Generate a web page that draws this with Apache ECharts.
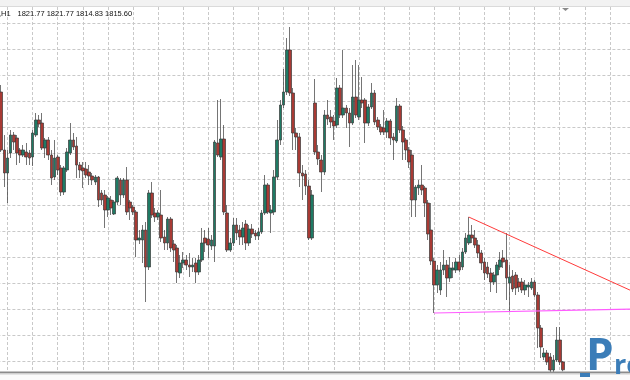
<!DOCTYPE html>
<html><head><meta charset="utf-8">
<script src="https://cdn.jsdelivr.net/npm/echarts@6/dist/echarts.min.js"></script>
<style>html,body{margin:0;padding:0;background:#fff}#c{width:630px;height:380px}</style>
</head><body><div id="c"></div>
<script>
// bar number of the first candle (bars are numbered along the time axis)
const firstBar = 6;
const opens = [
1954.5,1925.5,1914.0,1924.0,1933.0,1931.5,1925.5,1923.0,1924.5,1924.0,
1922.0,1933.0,1940.5,1939.0,1926.5,1930.5,1923.0,1912.0,1922.0,1916.5,
1904.5,1915.5,1924.0,1930.5,1927.5,1918.0,1916.5,1916.0,1914.5,1912.5,
1909.5,1912.0,1904.0,1903.0,1895.5,1900.5,1893.5,1899.5,1910.5,1903.0,
1910.5,1899.5,1897.0,1894.5,1880.5,1880.5,1885.5,1867.0,1904.0,1894.0,
1892.0,1893.0,1882.0,1879.0,1891.0,1878.5,1876.5,1864.0,1869.0,1870.5,
1868.0,1867.0,1869.0,1864.5,1870.5,1881.5,1881.0,1877.5,1877.5,1929.0,
1922.0,1931.0,1894.0,1875.5,1879.0,1888.0,1885.5,1882.0,1888.5,1879.0,
1886.0,1884.0,1882.5,1884.5,1894.0,1908.0,1894.0,1894.5,1912.0,1930.5,
1948.0,1954.5,1975.5,1954.0,1934.0,1932.0,1914.0,1913.5,1907.5,1881.5,
1949.0,1924.5,1920.5,1914.5,1943.0,1942.0,1940.0,1938.0,1956.5,1943.0,
1946.5,1944.0,1939.0,1952.0,1942.0,1950.5,1950.5,1939.0,1947.0,1954.0,
1940.5,1937.0,1936.5,1934.5,1940.0,1932.0,1930.0,1947.5,1935.5,1930.5,
1925.5,1923.0,1900.5,1906.5,1908.0,1906.5,1899.0,1885.5,1870.0,1858.0,
1855.5,1865.5,1868.0,1861.5,1865.5,1865.5,1869.5,1867.0,1874.5,1879.0,
1883.0,1881.5,1878.0,1874.0,1869.5,1867.0,1864.0,1859.5,1863.0,1867.0,
1871.5,1870.5,1859.0,1862.5,1863.0,1859.5,1859.5,1855.5,1857.0,1856.5,
1859.5,1853.0,1836.5,1822.0,1824.0,1822.0,1815.5,1820.5,1830.5,1819.5
];
const closes = [
1925.5,1914.0,1921.5,1933.0,1929.5,1924.0,1923.0,1925.5,1922.0,1921.5,
1934.0,1940.5,1938.5,1926.5,1930.5,1923.0,1911.5,1921.5,1915.5,1904.5,
1916.5,1924.5,1930.5,1927.0,1918.0,1915.5,1915.0,1913.0,1912.5,1910.5,
1912.0,1900.5,1900.5,1895.5,1901.5,1896.5,1899.5,1911.5,1903.0,1910.5,
1894.5,1896.5,1894.5,1880.5,1881.5,1885.5,1867.0,1904.0,1893.0,1892.0,
1894.0,1881.5,1879.0,1891.0,1876.5,1875.5,1864.5,1869.0,1870.5,1868.0,
1867.0,1868.0,1864.5,1870.5,1879.0,1879.0,1878.0,1880.5,1929.5,1923.0,
1931.0,1894.5,1875.5,1879.0,1888.0,1884.0,1882.0,1886.5,1879.0,1886.0,
1883.5,1882.5,1884.5,1894.0,1908.0,1894.5,1895.5,1912.0,1930.5,1948.0,
1954.5,1975.5,1954.0,1934.0,1932.0,1914.0,1912.5,1907.5,1881.5,1903.0,
1924.5,1921.0,1914.5,1943.0,1941.0,1939.5,1937.5,1956.5,1943.0,1946.5,
1944.0,1939.0,1952.0,1943.0,1950.5,1949.0,1939.0,1947.0,1954.0,1939.5,
1937.0,1934.5,1934.5,1940.0,1931.5,1930.5,1947.5,1935.5,1929.5,1925.5,
1919.5,1900.5,1907.0,1908.0,1905.5,1899.0,1883.5,1870.0,1858.0,1865.5,
1865.5,1868.0,1861.5,1866.5,1866.5,1869.5,1865.5,1874.5,1881.5,1883.0,
1881.5,1878.0,1874.0,1869.0,1864.0,1863.5,1859.5,1863.0,1868.0,1870.5,
1869.5,1861.5,1862.0,1856.0,1856.5,1857.0,1855.5,1858.0,1858.0,1859.5,
1853.0,1836.5,1827.0,1824.0,1819.5,1815.5,1820.5,1830.5,1819.5,1815.6
];
const lows = [
1924.5,1907.0,1899.0,1921.5,1925.5,1918.0,1919.0,1922.0,1918.0,1918.0,
1917.5,1932.0,1937.0,1925.5,1921.5,1920.5,1908.0,1910.5,1913.0,1902.5,
1903.0,1914.5,1923.0,1925.5,1911.5,1911.5,1906.5,1911.5,1908.0,1908.0,
1908.0,1897.0,1898.0,1886.5,1892.0,1893.0,1893.0,1898.0,1898.0,1901.5,
1893.0,1890.5,1893.0,1872.0,1878.5,1869.0,1849.5,1865.5,1891.5,1889.5,
1890.5,1879.5,1875.5,1875.5,1874.5,1869.5,1859.0,1861.5,1866.5,1865.5,
1862.0,1864.5,1859.0,1863.0,1869.5,1874.5,1871.5,1875.5,1869.5,1922.0,
1920.5,1893.0,1874.5,1874.5,1877.5,1880.5,1878.0,1878.0,1875.5,1877.5,
1881.5,1880.5,1880.5,1883.5,1893.0,1893.5,1884.0,1893.0,1910.5,1928.0,
1946.5,1953.0,1952.5,1925.5,1925.5,1907.0,1900.5,1903.0,1880.5,1880.5,
1923.0,1918.0,1904.5,1913.0,1938.0,1936.5,1930.5,1936.5,1941.5,1941.5,
1936.5,1927.0,1938.0,1941.5,1940.5,1946.5,1929.0,1937.5,1946.0,1938.0,
1935.5,1933.0,1933.0,1931.5,1928.0,1920.5,1929.0,1934.0,1920.5,1920.5,
1916.5,1892.0,1892.0,1903.0,1903.0,1892.0,1880.5,1868.0,1844.0,1854.0,
1853.0,1863.0,1852.0,1859.5,1861.5,1864.0,1864.5,1865.5,1873.5,1878.0,
1879.0,1876.5,1871.5,1865.5,1860.5,1861.5,1854.5,1858.0,1854.0,1865.5,
1866.5,1850.5,1844.5,1854.5,1853.0,1854.5,1854.0,1853.0,1852.0,1855.5,
1852.0,1826.5,1821.5,1820.5,1818.0,1812.5,1811.5,1819.5,1818.0,1814.83
];
const highs = [
1958.0,1933.0,1925.5,1935.5,1934.5,1933.0,1926.5,1928.0,1929.0,1925.5,
1935.5,1944.0,1943.0,1944.0,1931.5,1932.0,1925.5,1930.5,1923.0,1918.0,
1917.5,1926.5,1939.0,1934.0,1932.0,1919.5,1919.5,1919.5,1918.0,1914.0,
1913.0,1912.5,1905.5,1905.5,1902.5,1902.5,1900.5,1912.5,1911.5,1911.5,
1917.0,1900.5,1898.0,1895.5,1885.5,1888.0,1889.5,1905.5,1909.5,1896.5,
1895.5,1905.5,1885.5,1892.0,1892.0,1880.5,1878.0,1873.0,1874.5,1873.0,
1874.0,1871.5,1871.5,1873.0,1886.5,1885.5,1886.5,1883.0,1930.5,1950.5,
1951.0,1938.0,1898.0,1881.5,1891.5,1891.5,1888.0,1889.5,1890.5,1888.0,
1888.5,1885.5,1886.5,1895.5,1913.0,1909.0,1898.0,1915.5,1940.5,1950.5,
1966.0,1981.5,1987.0,1956.5,1936.5,1934.0,1918.0,1915.5,1910.5,1905.5,
1961.0,1928.0,1923.0,1945.5,1950.5,1945.5,1943.0,1961.5,1958.0,1975.5,
1948.0,1946.5,1968.0,1970.5,1968.0,1962.0,1951.5,1948.5,1959.0,1955.5,
1942.0,1938.5,1945.5,1941.5,1941.0,1934.0,1951.5,1948.5,1937.5,1931.5,
1927.0,1925.5,1908.0,1910.5,1918.0,1907.5,1900.5,1899.0,1871.5,1868.0,
1869.5,1875.5,1870.5,1872.0,1869.5,1871.5,1873.0,1876.5,1884.0,1892.0,
1888.0,1885.5,1880.5,1875.5,1871.5,1869.5,1866.5,1864.5,1869.5,1874.5,
1875.5,1884.0,1868.0,1865.5,1864.5,1861.5,1861.5,1860.5,1859.5,1861.5,
1860.5,1854.5,1838.0,1826.5,1825.5,1824.0,1823.0,1837.0,1837.0,1820.0
];
// trend lines drawn on the chart: [bar, price]
const resistanceLine = [[155, 1892.0], [208, 1854.3]];
const supportLine = [[144, 1844.0], [208, 1846.0]];
const headerSymbol = ',H1';
const headerValues = '1821.77 1821.77 1814.83 1815.60';

const candles = opens.map((o, i) => [firstBar + i, o, closes[i], lows[i], highs[i]]);
const gridStyle = { color: '#c9c9c9', type: [3, 2], width: 1 };

const chart = echarts.init(document.getElementById('c'), null, { renderer: 'canvas' });
chart.setOption({
  animation: false,
  backgroundColor: '#ffffff',
  grid: { left: -17.6, right: -5, top: 7, bottom: -7, containLabel: false, outerBoundsMode: 'none' },
  xAxis: {
    type: 'value', min: 0, max: 208, interval: 8,
    axisLine: { show: false }, axisTick: { show: false }, axisLabel: { show: false },
    splitLine: { show: true, lineStyle: gridStyle, showMinLine: false, showMaxLine: false }
  },
  yAxis: {
    type: 'value', min: 1807, max: 1997, interval: 13, position: 'right',
    axisLine: { show: false }, axisTick: { show: false }, axisLabel: { show: false },
    splitLine: { show: true, lineStyle: gridStyle, showMinLine: false, showMaxLine: false }
  },
  series: [
    {
      type: 'candlestick', data: candles, encode: { x: 0, y: [1, 2, 3, 4] },
      barWidth: 3.2,
      itemStyle: { color: '#1f7a64', color0: '#a83a34', borderColor: '#3a3a3a', borderColor0: '#3a3a3a', borderWidth: 0.7 }
    },
    { type: 'line', data: resistanceLine, symbol: 'none', lineStyle: { color: '#ff3a3a', width: 1 }, z: 4 },
    { type: 'line', data: supportLine, symbol: 'none', lineStyle: { color: '#ff5cff', width: 1.2 }, z: 4 }
  ],
  graphic: [
    { type: 'rect', z: 100, shape: { x: 0, y: 0, width: 630, height: 6 }, style: { fill: '#f2f2f2' } },
    { type: 'rect', z: 100, shape: { x: 0, y: 6, width: 630, height: 1 }, style: { fill: '#dadada' } },
    { type: 'polygon', z: 101, shape: { points: [[562, 8], [569, 8], [565.5, 11]] }, style: { fill: '#8a8a8a' } },
    { type: 'text', z: 101, x: -1, y: 13.5, style: { text: headerSymbol, font: '7.5px "Liberation Sans"', fill: '#111', verticalAlign: 'middle' } },
    { type: 'text', z: 101, x: 17.5, y: 13.5, style: { text: headerValues, font: '7.5px "Liberation Sans"', fill: '#111', verticalAlign: 'middle' } },
    { type: 'rect', z: 100, shape: { x: 0, y: 372, width: 630, height: 8 }, style: { fill: '#fbfbfb' } },
    { type: 'rect', z: 100, shape: { x: 0, y: 371.5, width: 630, height: 1.5 }, style: { fill: '#8c8c8c' } },
    { type: 'rect', z: 100, shape: { x: 0, y: 373, width: 630, height: 1.5 }, style: { fill: '#cfcfcf' } },
    { type: 'rect', z: 102, shape: { x: 580, y: 373, width: 10, height: 4 }, style: { fill: '#3b7db8' } },
    { type: 'text', z: 102, x: 586, y: 379, style: { text: 'P', font: 'bold 44px "Open Sans"', fill: '#3b7db8', verticalAlign: 'bottom' } },
    { type: 'text', z: 102, x: 614, y: 380, style: { text: 'ro', font: 'bold 27px "Liberation Sans Narrow", "Open Sans"', fill: '#3b7db8', verticalAlign: 'bottom' } }
  ]
});
</script>
</body></html>
